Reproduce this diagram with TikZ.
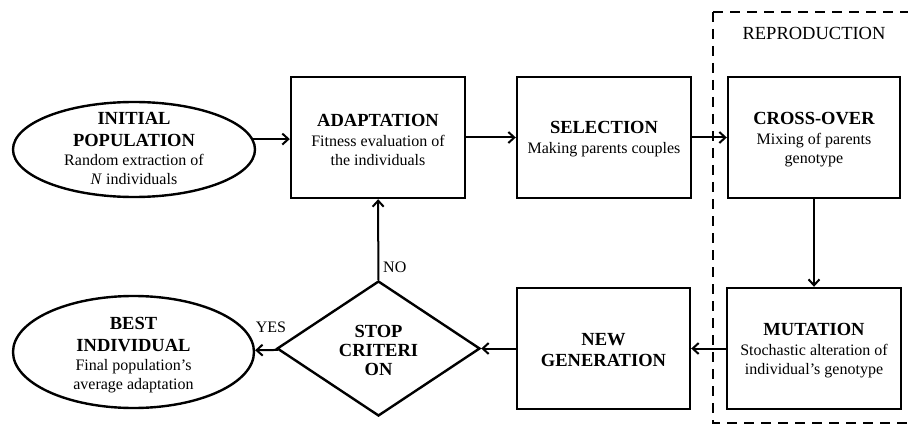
\documentclass[tikz,border=0pt]{standalone}
\usepackage{fontspec}
\setmainfont{Liberation Serif}
\usetikzlibrary{shapes.geometric,arrows.meta}
\begin{document}
\begin{tikzpicture}[x=1pt,y=-1pt,
  box/.style={draw,line width=2.4pt,rectangle,minimum width=174pt,minimum height=121pt,inner sep=0pt},
  oval/.style={draw,line width=2.4pt,ellipse,inner sep=0pt},
  decide/.style={draw,line width=2.4pt,diamond,minimum width=203pt,minimum height=135pt,inner sep=0pt},
  txt/.style={align=center,inner sep=0pt,yshift=-2pt,font=\fontsize{16}{19}\selectfont},
  arr/.style={line width=2pt,-{Straight Barb[length=6pt,width=11pt,line width=2pt]}},
  lbl/.style={inner sep=0pt,font=\fontsize{16}{19}\selectfont}]
\newcommand{\ttl}[1]{{\fontsize{18.5}{21}\selectfont\bfseries #1}}
\useasboundingbox (0,0) rectangle (908,425);
\clip (0,0) rectangle (908,425);
% dashed reproduction frame
\draw[line width=2.6pt,dash pattern=on 10pt off 7pt] (713,12) -- (915,12) (713,12) -- (713,423) -- (915,423);
\node[lbl,font=\fontsize{18.5}{21}\selectfont] (repro) at (814,33) {REPRODUCTION};
% shapes
\node[oval,minimum width=242pt,minimum height=95pt] (init) at (134,149.5) {};
\node[txt] (initt) at (134,146) {\ttl{INITIAL}\\[3pt]\ttl{POPULATION}\\Random extraction of\\\textit{N} individuals};
\node[box] (adapt) at (378,137.5) {};
\node[txt] (adaptt) at (378,137.5) {\ttl{ADAPTATION}\\[1pt]Fitness evaluation of\\the individuals};
\node[box] (select) at (604,137.5) {};
\node[txt] (selectt) at (604,137.5) {\ttl{SELECTION}\\[1pt]Making parents couples};
\node[box,minimum width=172pt] (cross) at (814,137.5) {};
\node[txt] (crosst) at (814,137.5) {\ttl{CROSS-OVER}\\[1pt]Mixing of parents\\genotype};
\node[box] (mut) at (814,348.5) {};
\node[txt] (mutt) at (814,348.5) {\ttl{MUTATION}\\[1pt]Stochastic alteration of\\individual’s genotype};
\node[box,minimum width=173pt] (newgen) at (603.5,348.5) {};
\node[txt] (newgent) at (603.5,348.5) {\ttl{NEW}\\[2pt]\ttl{GENERATION}};
\node[decide] (stop) at (378.5,348.5) {};
\node[txt] (stopt) at (378.5,348.5) {\ttl{STOP}\\\ttl{CRITERI}\\\ttl{ON}};
\node[oval,minimum width=241pt,minimum height=112pt] (best) at (133.5,352) {};
\node[txt] (bestt) at (133.5,353) {\ttl{BEST}\\[3pt]\ttl{INDIVIDUAL}\\Final population’s\\average adaptation};
% connectors
\draw[arr] (init.5) -- (init.5 -| adapt.west);
\draw[arr] (adapt) -- (select);
\draw[arr] (select) -- (cross);
\draw[arr] (cross) -- (mut);
\draw[arr] (mut) -- (newgen);
\draw[arr] (newgen) -- (stop);
\draw[arr] (stop) -- (best);
\draw[arr] (stop) -- (adapt);
\node[lbl,anchor=west] (no) at (383,267) {NO};
\node[lbl] (yes) at (271,327) {YES};
\end{tikzpicture}
\end{document}
